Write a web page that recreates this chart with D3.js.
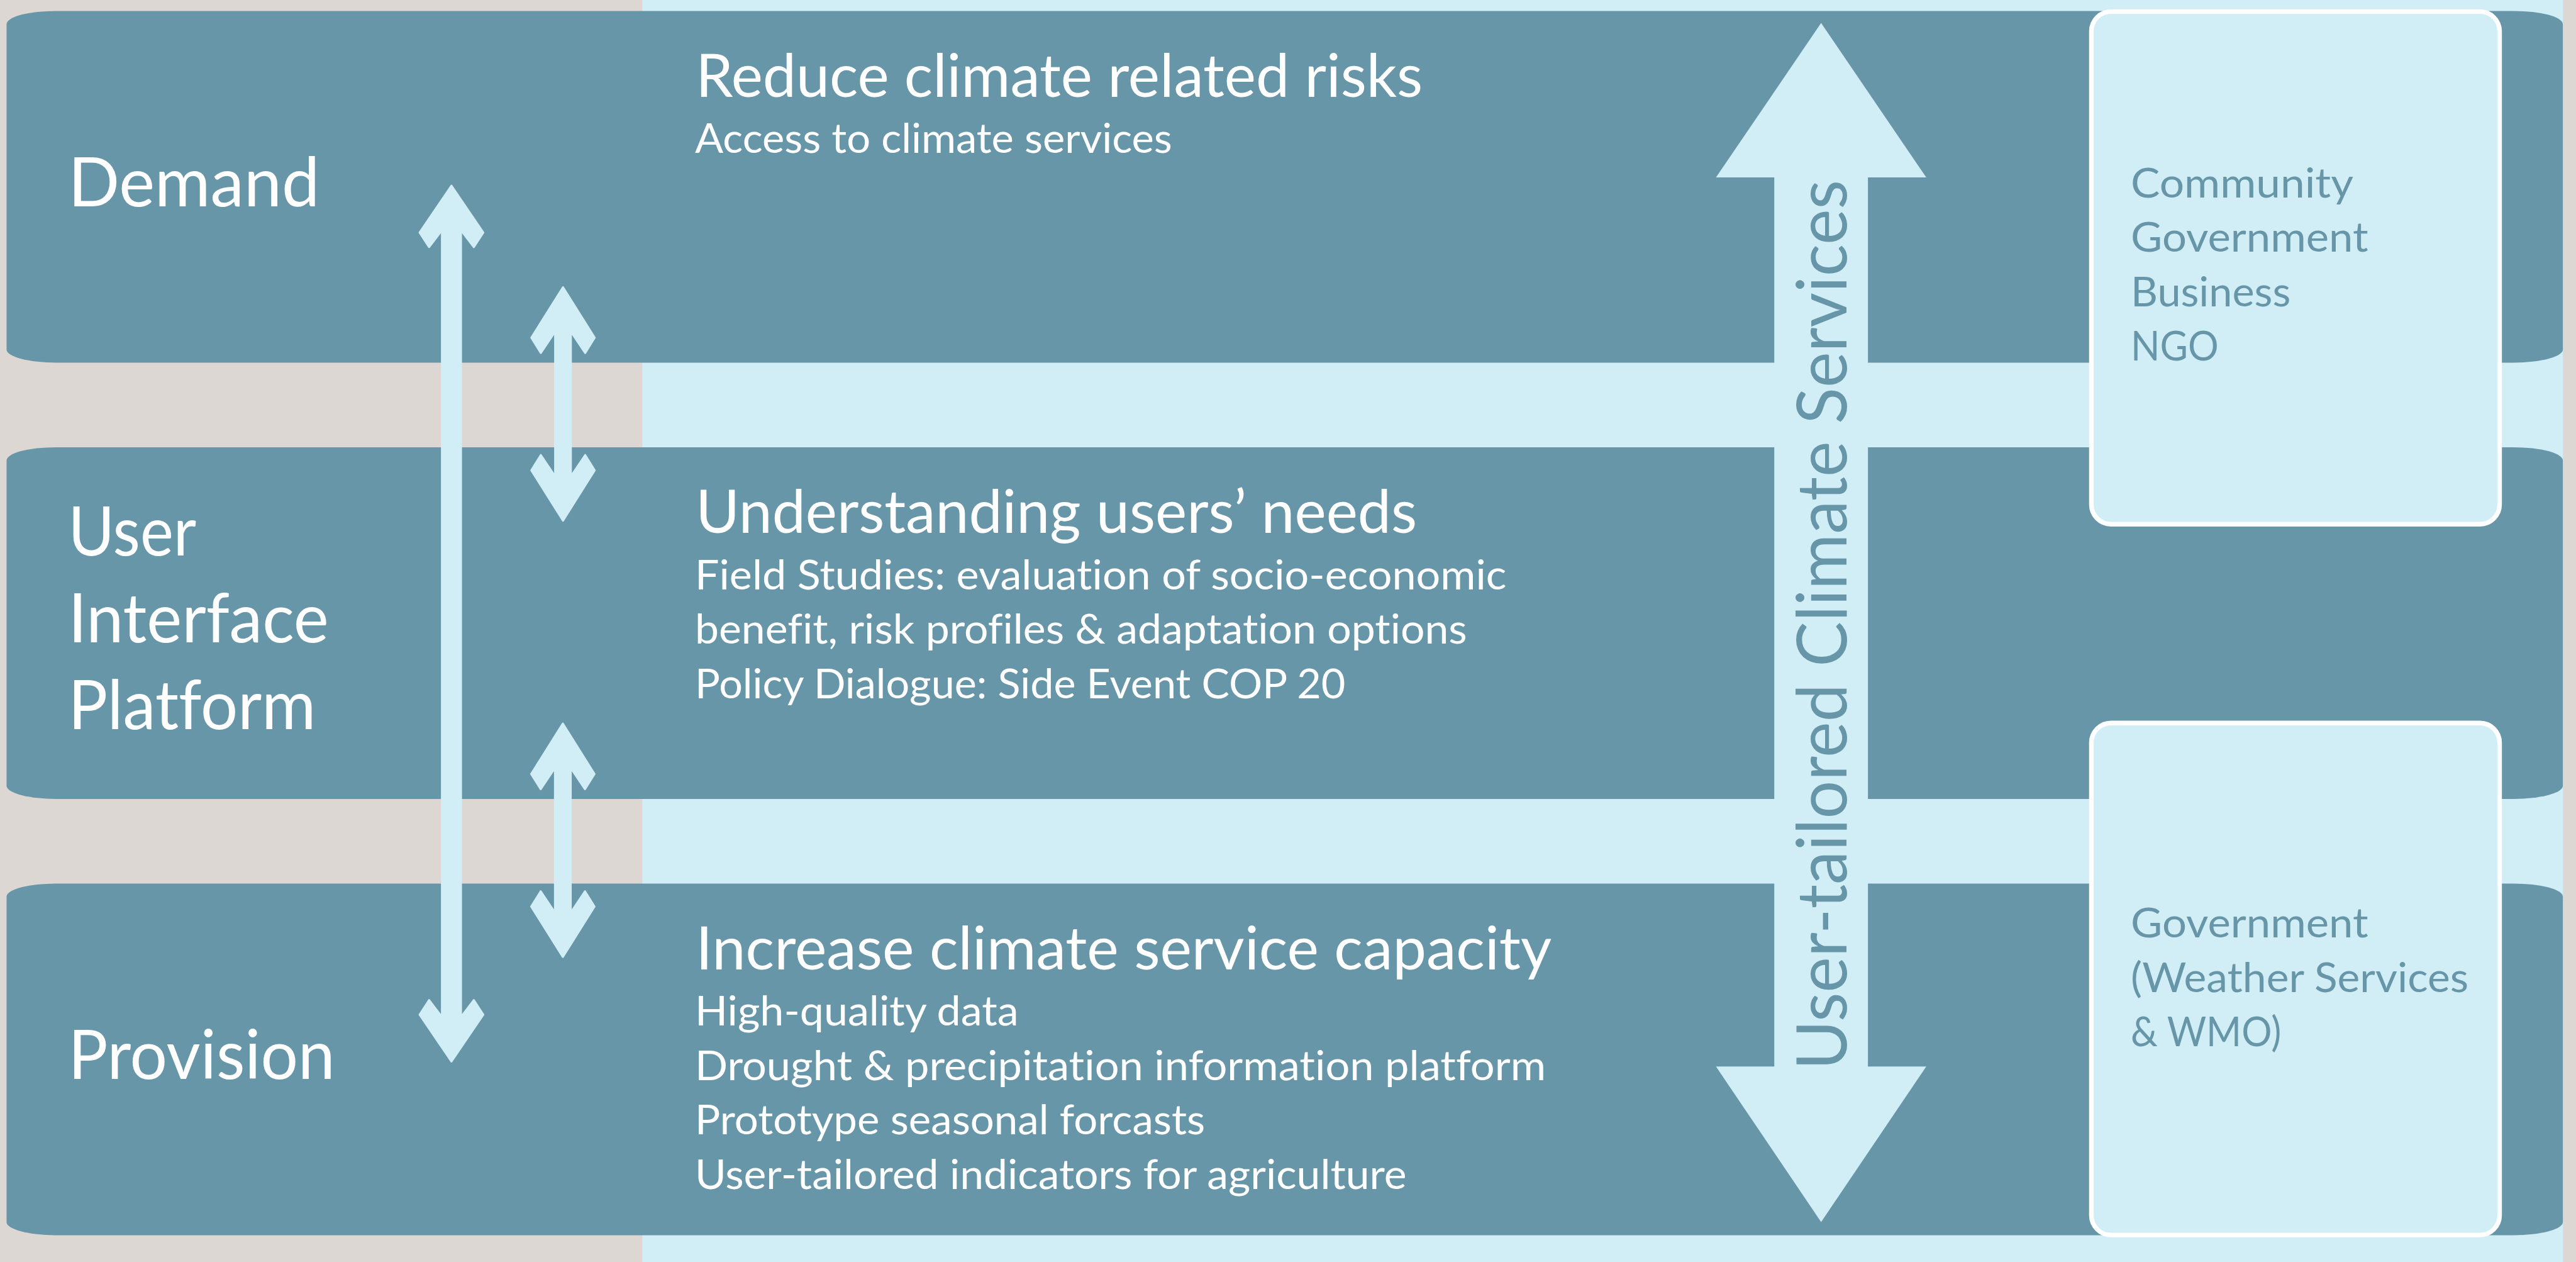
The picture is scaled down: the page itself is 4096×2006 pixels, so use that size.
<!DOCTYPE html>
<html>
<head>
    <title>Climate Services Framework</title>
    <style>
        body {
            margin: 0;
            overflow: hidden;
            background: #dcd7d3;
        }

        svg text {
            font-family: Lato, "Open Sans", sans-serif;
            font-variant-ligatures: none;
            font-feature-settings: "liga" 0, "clig" 0, "dlig" 0;
        }

        .band {
            fill: #6796a9;
        }

        .light {
            fill: #d1edf5;
        }

        .label {
            fill: #fff;
        }

        .teal {
            fill: #6796a9;
        }
    </style>
</head>
<body>
<div id="diagram"></div>

<script src="https://d3js.org/d3.v7.min.js"></script>
<script>
    // content of the three levels
    const levels = ["Demand", "User Interface Platform", "Provision"];
    const levelLines = [["Demand"], ["User", "Interface", "Platform"], ["Provision"]];
    const headings = [
        "Reduce climate related risks",
        "Understanding users\u2019 needs",
        "Increase climate service capacity"
    ];
    const details = [
        ["Access to climate services"],
        ["Field Studies: evaluation of socio-economic",
         "benefit, risk profiles & adaptation options",
         "Policy Dialogue: Side Event COP 20"],
        ["High-quality data",
         "Drought & precipitation information platform",
         "Prototype seasonal forcasts",
         "User-tailored indicators for agriculture"]
    ];
    const actors = [
        ["Community", "Government", "Business", "NGO"],
        ["Government", "(Weather Services", "& WMO)"]
    ];
    const servicesLabel = "User-tailored Climate Services";

    // measured line widths (in 1568 x 768 units) so the text fits like the original
    const fitWidth = {
        "Demand": 153, "User": 78, "Interface": 158.6, "Platform": 150.7, "Provision": 162.4,
        "Reduce climate related risks": 442.5,
        "Understanding users\u2019 needs": 439,
        "Increase climate service capacity": 521,
        "Access to climate services": 290.5,
        "Field Studies: evaluation of socio-economic": 494,
        "benefit, risk profiles & adaptation options": 470,
        "Policy Dialogue: Side Event COP 20": 396,
        "High-quality data": 197,
        "Drought & precipitation information platform": 518,
        "Prototype seasonal forcasts": 310.5,
        "User-tailored indicators for agriculture": 433.2,
        "Community": 135.5, "Government": 144.5, "Business": 97.3, "NGO": 53.5,
        "(Weather Services": 205.6, "& WMO)": 91.6,
        "User-tailored Climate Services": 541.5
    };

    const W = 1568, H = 768;

    const svg = d3.select("#diagram").append("svg")
        .attr("width", 4096)
        .attr("height", 2006)
        .attr("viewBox", `0 0 ${W} ${H}`)
        .attr("preserveAspectRatio", "none");

    // backgrounds
    svg.append("rect").attr("width", W).attr("height", H).attr("fill", "#dcd7d3");
    svg.append("rect").attr("class", "light")
        .attr("x", 391).attr("y", 0).attr("width", 1560 - 391).attr("height", H);

    const y = d3.scaleBand()
        .domain(levels)
        .range([6.7, 751.7])
        .paddingInner(0.194)
        .paddingOuter(0);

    svg.append("g").selectAll("rect")
        .data(levels)
        .enter().append("rect")
        .attr("class", "band")
        .attr("x", 4)
        .attr("y", d => y(d))
        .attr("width", 1556)
        .attr("height", y.bandwidth())
        .attr("rx", 30)
        .attr("ry", 8);

    function fitted(sel) {
        sel.attr("textLength", d => fitWidth[d] || null)
            .attr("lengthAdjust", "spacingAndGlyphs");
        return sel;
    }

    // small double arrows between levels
    function doubleArrow(a) {
        const c = a.x, t = a.y1, b = a.y2, h = a.head;
        return [
            [c, t], [c + h.dx, t + h.dy], [c + h.tx, t + h.ty], [c + a.half, t + h.ny],
            [c + a.half, b - h.ny], [c + h.tx, b - h.ty], [c + h.dx, b - h.dy], [c, b],
            [c - h.dx, b - h.dy], [c - h.tx, b - h.ty], [c - a.half, b - h.ny],
            [c - a.half, t + h.ny], [c - h.tx, t + h.ty], [c - h.dx, t + h.dy]
        ];
    }

    const arrows = [
        {x: 274.8, y1: 113, y2: 646, half: 5.8, head: {dx: 19.4, dy: 28.5, tx: 13.6, ty: 37.4, ny: 27.1}},
        {x: 342.7, y1: 174.8, y2: 316.9, half: 4.8, head: {dx: 19.3, dy: 30.7, tx: 13.5, ty: 40, ny: 27}},
        {x: 342.6, y1: 440.3, y2: 582.4, half: 4.8, head: {dx: 19.3, dy: 30.7, tx: 13.5, ty: 40, ny: 27}}
    ];

    svg.append("g").selectAll("path")
        .data(arrows)
        .enter().append("path")
        .attr("class", "light")
        .attr("stroke", "#d1edf5")
        .attr("stroke-width", 1.2)
        .attr("stroke-linejoin", "round")
        .attr("d", d => d3.line()(doubleArrow(d)) + "Z");

    // big services arrow
    const big = {x: 1108.5, top: 14, topBase: 108, botBase: 649, bottom: 743.7, half: 28.5, headHalf: 64};
    svg.append("path")
        .attr("class", "light")
        .attr("d", d3.line()([
            [big.x, big.top], [big.x + big.headHalf, big.topBase], [big.x + big.half, big.topBase],
            [big.x + big.half, big.botBase], [big.x + big.headHalf, big.botBase], [big.x, big.bottom],
            [big.x - big.headHalf, big.botBase], [big.x - big.half, big.botBase],
            [big.x - big.half, big.topBase], [big.x - big.headHalf, big.topBase]
        ]) + "Z");

    svg.append("text")
        .datum(servicesLabel)
        .attr("class", "teal")
        .attr("transform", "translate(1124,651) rotate(-90)")
        .attr("font-size", 42.4)
        .text(d => d)
        .call(fitted);

    // actor boxes
    const boxes = [{y0: 7, y1: 319}, {y0: 440, y1: 751.6}];
    const actorTop = [120.2, 570.6];

    svg.append("g").selectAll("rect")
        .data(boxes)
        .enter().append("rect")
        .attr("class", "light")
        .attr("x", 1273)
        .attr("y", d => d.y0)
        .attr("width", 1521.5 - 1273)
        .attr("height", d => d.y1 - d.y0)
        .attr("rx", 12)
        .attr("stroke", "#fff")
        .attr("stroke-width", 2.8);

    actors.forEach((lines, i) => {
        svg.append("g").selectAll("text")
            .data(lines)
            .enter().append("text")
            .attr("class", "teal")
            .attr("x", 1297)
            .attr("y", (d, j) => actorTop[i] + j * 33.1)
            .attr("font-size", 25.4)
            .text(d => d)
            .call(fitted);
    });

    // level names on the left
    levels.forEach((lvl, i) => {
        const lines = levelLines[i];
        svg.append("g").selectAll("text")
            .data(lines)
            .enter().append("text")
            .attr("class", "label")
            .attr("x", 41.5)
            .attr("y", (d, j) => y(lvl) + 118.8 + (j - (lines.length - 1) / 2) * 52.9)
            .attr("font-size", 41.6)
            .text(d => d)
            .call(fitted);
    });

    // headings and details
    levels.forEach((lvl, i) => {
        svg.append("text")
            .datum(headings[i])
            .attr("class", "label")
            .attr("x", 423.5)
            .attr("y", y(lvl) + 52.2)
            .attr("font-size", 36.3)
            .text(d => d)
            .call(fitted);

        svg.append("g").selectAll("text")
            .data(details[i])
            .enter().append("text")
            .attr("class", "label")
            .attr("x", 423)
            .attr("y", (d, j) => y(lvl) + 86.4 + j * 33.1)
            .attr("font-size", 25.4)
            .text(d => d)
            .call(fitted);
    });
</script>
</body>
</html>
